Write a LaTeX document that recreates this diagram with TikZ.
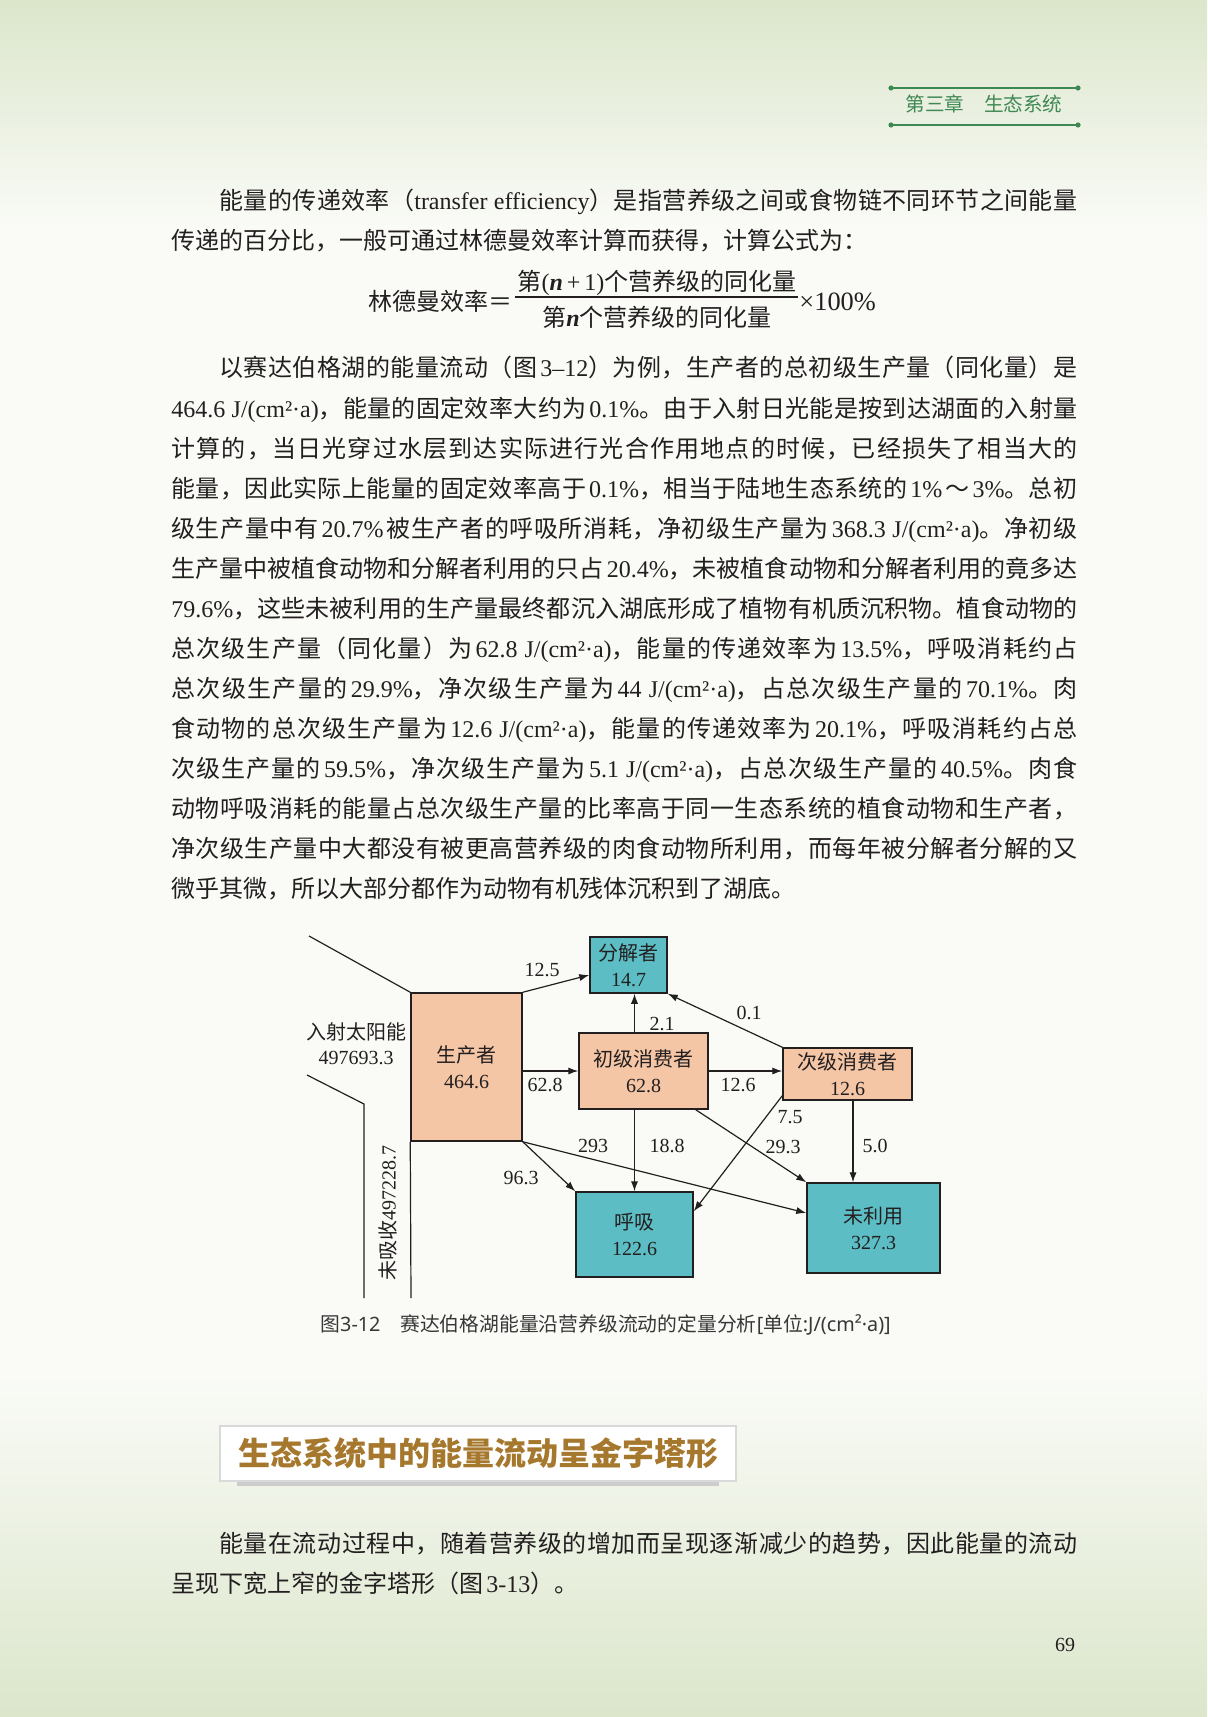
\documentclass[tikz,border=0pt]{standalone}
\usepackage{fontspec}
\usetikzlibrary{arrows.meta}
\setmainfont{Liberation Serif}
\newfontfamily\cjk{Noto Sans CJK SC}
\newfontfamily\capsans{Noto Sans}
\definecolor{bgtint}{RGB}{219,230,203}
\definecolor{bgpaper}{RGB}{250,251,247}
\definecolor{ink}{RGB}{35,31,32}
\definecolor{headgreen}{RGB}{62,136,84}
\definecolor{secbrown}{RGB}{166,120,46}
\definecolor{capgray}{RGB}{55,55,55}
\definecolor{peach}{RGB}{244,198,165}
\definecolor{boxteal}{RGB}{92,190,196}
% Chinese runs get the CJK font, the rest stays in the Latin font in force
\newcount\cjkcode
\cjkcode="4E00
\loop\XeTeXcharclass\cjkcode=1 \ifnum\cjkcode<"9FFF \advance\cjkcode by 1 \repeat
\XeTeXcharclass"FF5E=1 \XeTeXcharclass"FF1D=1
\XeTeXcharclass"FF08=2
\XeTeXcharclass"FF09=3 \XeTeXcharclass"FF0C=3 \XeTeXcharclass"3002=3 \XeTeXcharclass"FF1A=3
\XeTeXcharclass"00B7=0 \XeTeXcharclass"00B2=0 \XeTeXcharclass"00D7=0 \XeTeXcharclass"2013=0
\newcommand\cjkgap{}
\newcommand\cjkglue{\hskip0pt plus .15em minus .08em\relax}
\XeTeXinterchartokenstate=1
\XeTeXinterchartoks 0 1 = {\cjkgap\begingroup\cjk}
\XeTeXinterchartoks 1 0 = {\endgroup\cjkgap}
\XeTeXinterchartoks 4095 1 = {\begingroup\cjk}
\XeTeXinterchartoks 1 4095 = {\endgroup}
\XeTeXinterchartoks 0 2 = {\begingroup\cjk}
\XeTeXinterchartoks 2 0 = {\endgroup}
\XeTeXinterchartoks 4095 2 = {\begingroup\cjk}
\XeTeXinterchartoks 2 4095 = {\endgroup}
\XeTeXinterchartoks 0 3 = {\begingroup\cjk}
\XeTeXinterchartoks 3 0 = {\endgroup}
\XeTeXinterchartoks 4095 3 = {\begingroup\cjk}
\XeTeXinterchartoks 3 4095 = {\endgroup}
\XeTeXinterchartoks 1 1 = {\cjkglue}
\XeTeXinterchartoks 1 2 = {\cjkglue}
\XeTeXinterchartoks 1 3 = {\cjkglue}
\XeTeXinterchartoks 2 1 = {\cjkglue}
\XeTeXinterchartoks 3 1 = {\cjkglue}
\XeTeXinterchartoks 3 2 = {\cjkglue}
\XeTeXinterchartoks 2 3 = {\cjkglue}
\newcommand\jline[2][453pt]{\hbox to #1{#2}}
\begin{document}
\begin{tikzpicture}[x=0.5pt,y=-0.5pt,
  txt/.style={anchor=base west, inner sep=0pt, text=ink,
    font=\fontsize{12pt}{18pt}\selectfont\def\cjkgap{\hskip.12em plus .06em minus .04em\relax}},
  tight/.style={font=\fontsize{12pt}{18pt}\selectfont\def\cjkgap{}},
  pool/.style={draw=ink, line width=0.75pt, align=center, inner sep=0pt, text=ink,
    font=\fontsize{10pt}{13pt}\selectfont},
  flow/.style={draw=ink, line width=0.6pt, -{Latex[length=5pt,width=3.6pt]}},
  val/.style={inner sep=0pt, text=ink, font=\fontsize{10pt}{12.5pt}\selectfont}]
\useasboundingbox (0,0) rectangle (1207,1717);
% page
\fill[bgpaper] (0,0) rectangle (1207,1717);
\shade[top color=bgtint, bottom color=bgpaper] (0,0) rectangle (1207,230);
\shade[top color=bgpaper, bottom color=bgtint] (0,1370) rectangle (1207,1717);
% running head
\node[inner sep=0pt, text=headgreen, font=\fontsize{9.8pt}{12pt}\selectfont] (hd) at (984,104) {第三章\hspace{1em}生态系统};
\foreach \y in {88,125} {
  \draw[headgreen, line width=0.9pt] (891,\y) -- (1078,\y);
  \fill[headgreen] (891,\y) circle (1.3pt) (1078,\y) circle (1.3pt);
}
% text
\node[txt] (a1) at (219,210) {\jline[429pt]{能量的传递效率（transfer efficiency）是指营养级之间或食物链不同环节之间能量}};
\node[txt] (a2) at (171,250) {传递的百分比，一般可通过林德曼效率计算而获得，计算公式为：};
\node[txt, anchor=base east] (f0) at (513,311) {林德曼效率＝};
\node[txt, tight, anchor=base] (fn) at (657,291) {第(\textbf{\textit{n}}\,+\,1)个营养级的同化量};
\node[txt, tight, anchor=base] (fd) at (657,327) {第\textbf{\textit{n}}个营养级的同化量};
\draw[ink, line width=0.6pt] (515,297) -- (798,297);
\node[txt, font=\fontsize{13.2pt}{18pt}\selectfont] (fx) at (799,311) {×100\%};
\node[txt] (b1) at (219,377) {\jline[429pt]{以赛达伯格湖的能量流动（图3–12）为例，生产者的总初级生产量（同化量）是}};
\node[txt] (b2) at (171,417) {\jline{464.6 J/(cm²·a)，能量的固定效率大约为0.1\%。由于入射日光能是按到达湖面的入射量}};
\node[txt] (b3) at (171,457) {\jline{计算的，当日光穿过水层到达实际进行光合作用地点的时候，已经损失了相当大的}};
\node[txt] (b4) at (171,497) {\jline{能量，因此实际上能量的固定效率高于0.1\%，相当于陆地生态系统的1\%～3\%。总初}};
\node[txt] (b5) at (171,537) {\jline{级生产量中有20.7\%被生产者的呼吸所消耗，净初级生产量为368.3 J/(cm²·a)。净初级}};
\node[txt] (b6) at (171,577) {\jline{生产量中被植食动物和分解者利用的只占20.4\%，未被植食动物和分解者利用的竟多达}};
\node[txt] (b7) at (171,617) {\jline{79.6\%，这些未被利用的生产量最终都沉入湖底形成了植物有机质沉积物。植食动物的}};
\node[txt] (b8) at (171,657) {\jline{总次级生产量（同化量）为62.8 J/(cm²·a)，能量的传递效率为13.5\%，呼吸消耗约占}};
\node[txt] (b9) at (171,697) {\jline{总次级生产量的29.9\%，净次级生产量为44 J/(cm²·a)，占总次级生产量的70.1\%。肉}};
\node[txt] (b10) at (171,737) {\jline{食动物的总次级生产量为12.6 J/(cm²·a)，能量的传递效率为20.1\%，呼吸消耗约占总}};
\node[txt] (b11) at (171,777) {\jline{次级生产量的59.5\%，净次级生产量为5.1 J/(cm²·a)，占总次级生产量的40.5\%。肉食}};
\node[txt] (b12) at (171,817) {\jline{动物呼吸消耗的能量占总次级生产量的比率高于同一生态系统的植食动物和生产者，}};
\node[txt] (b13) at (171,857) {\jline{净次级生产量中大都没有被更高营养级的肉食动物所利用，而每年被分解者分解的又}};
\node[txt] (b14) at (171,897) {微乎其微，所以大部分都作为动物有机残体沉积到了湖底。};
% figure 3-12
\node[pool, fill=peach, minimum width=55.5pt, minimum height=74pt] (p) at (466.5,1067) {生产者\\464.6};
\node[pool, fill=boxteal, minimum width=38.5pt, minimum height=28pt] (d) at (628.5,965) {分解者\\14.7};
\node[pool, fill=peach, minimum width=64.5pt, minimum height=38pt] (c1) at (643.5,1071) {初级消费者\\62.8};
\node[pool, fill=peach, minimum width=64.5pt, minimum height=26pt] (c2) at (847.5,1074) {次级消费者\\12.6};
\node[pool, fill=boxteal, minimum width=58.5pt, minimum height=42.5pt] (r) at (634.5,1234.5) {呼吸\\122.6};
\node[pool, fill=boxteal, minimum width=66.5pt, minimum height=45pt] (u) at (873.5,1228) {未利用\\327.3};
\node[val, align=center] (sun) at (356,1044) {入射太阳能\\497693.3};
\node[val, rotate=90] (lost) at (388,1213) {未吸收497228.7};
\coordinate (s1) at (309,936);
\coordinate (s2) at (307,1075);
\coordinate (s3) at (364,1104);
\coordinate (s4) at (364,1298);
\coordinate (s5) at (411,1298);
\draw[ink, line width=0.6pt] (s1) -- (p.north west);
\draw[ink, line width=0.6pt] (s2) -- (s3) -- (s4);
\draw[ink, line width=0.6pt] (p.south west) -- (s5);
\draw[flow] (p.north east) -- ([yshift=-5pt]d.west);
\draw[flow] (c1.north -| r.north) -- (d.south -| r.north);
\draw[flow] (c2.north west) -- (d.south east);
\draw[flow] (c1.west -| p.east) -- (c1.west);
\draw[flow] (c1.east) -- (c1.east -| c2.west);
\draw[flow] (c1.south -| r.north) -- (r.north);
\draw[flow] ([xshift=-6.5pt]c1.south east) -- (u.north west);
\draw[flow] ([yshift=2.5pt]c2.south west) -- ([yshift=-10pt]r.north east);
\draw[flow] ([xshift=2.75pt]c2.south) -- ([xshift=2.75pt]c2.south |- u.north);
\draw[flow] (p.south east) -- (r.north west);
\draw[flow] (p.south east) -- ([yshift=7.5pt]u.west);
\node[val] (v1) at (542,970) {12.5};
\node[val] (v2) at (662,1024) {2.1};
\node[val] (v3) at (749,1013) {0.1};
\node[val] (v4) at (545,1085) {62.8};
\node[val] (v5) at (738,1085) {12.6};
\node[val] (v6) at (667,1146) {18.8};
\node[val] (v7) at (783,1147) {29.3};
\node[val] (v8) at (790,1117) {7.5};
\node[val] (v9) at (875,1146) {5.0};
\node[val] (v10) at (521,1178) {96.3};
\node[val] (v11) at (593,1146) {293};
\node[anchor=west, inner sep=0pt, text=capgray, font=\fontsize{9.9pt}{12pt}\selectfont\capsans] (cap) at (320,1325) {图3-12\hspace{1em}赛达伯格湖能量沿营养级流动的定量分析[单位:J/(cm²·a)]};
% section title
\fill[gray!40] (237,1436) rectangle (719,1486);
\node[draw=gray!30, fill=white, line width=0.8pt, minimum width=258pt, minimum height=27.5pt, inner sep=0pt,
  text=secbrown, font=\fontsize{16pt}{20pt}\selectfont\bfseries] (sec) at (478,1453.5) {生态系统中的能量流动呈金字塔形};
\node[txt] (c1t) at (219,1552) {\jline[429pt]{能量在流动过程中，随着营养级的增加而呈现逐渐减少的趋势，因此能量的流动}};
\node[txt] (c2t) at (171,1592) {呈现下宽上窄的金字塔形（图3-13）。};
\node[inner sep=0pt, text=ink, font=\fontsize{10pt}{12pt}\selectfont] (pg) at (1065,1645) {69};
\end{tikzpicture}
\end{document}
